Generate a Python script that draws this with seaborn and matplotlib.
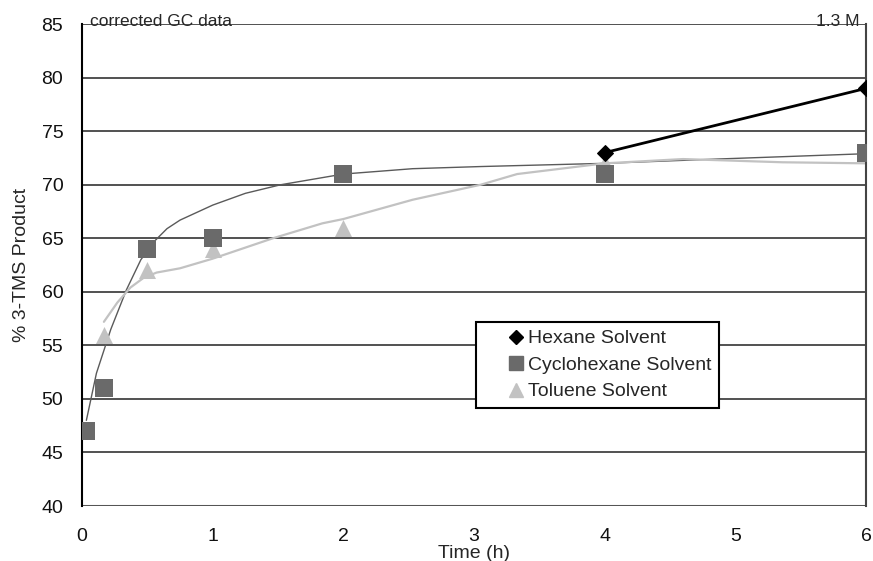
import matplotlib
matplotlib.use("Agg")
import matplotlib.pyplot as plt
import seaborn as sns
from matplotlib.lines import Line2D

# measured data
hex_t = [4, 6]
hex_y = [73, 79]
cyc_t = [0.033, 0.167, 0.5, 1, 2, 4, 6]
cyc_y = [47, 51, 64, 65, 71, 71, 73]
tol_t = [0.167, 0.5, 1, 2, 4, 6]
tol_y = [56, 62, 64, 66, 72, 73]

# smoothed curves
cyc_fit_t = [0.033, 0.11, 0.22, 0.34, 0.45, 0.56, 0.65, 0.75, 1.0, 1.25, 1.52, 2.0, 2.53, 3.05, 4.0, 4.86, 6.0]
cyc_fit_y = [48.0, 52.4, 56.5, 60.2, 63.0, 64.8, 65.9, 66.7, 68.1, 69.2, 70.0, 71.0, 71.5, 71.7, 72.0, 72.4, 72.9]
tol_fit_t = [0.167, 0.27, 0.37, 0.47, 0.57, 0.75, 1.0, 1.46, 1.84, 2.0, 2.53, 3.05, 3.33, 4.0, 4.6, 5.36, 6.0]
tol_fit_y = [57.2, 59.0, 60.4, 61.3, 61.8, 62.2, 63.1, 65.0, 66.4, 66.8, 68.6, 70.0, 71.0, 72.0, 72.4, 72.1, 72.0]

sns.set_style("white")
plt.rcParams['font.family'] = ['Liberation Sans', 'DejaVu Sans']

fig = plt.figure(figsize=(8.73, 5.61), dpi=100)
ax = fig.add_axes([0.094, 0.098, 0.898, 0.859])

dark = "#6a6a6a"
light = "#c2c2c2"

# grid lines
for v in range(45, 86, 5):
    ax.axhline(v, color="#222222", lw=1.1, zorder=0)
ax.axhline(40, color="#555555", lw=2.2, zorder=0)

sns.lineplot(x=cyc_fit_t, y=cyc_fit_y, ax=ax, color="#5a5a5a", lw=1.0, zorder=2)
sns.lineplot(x=tol_fit_t, y=tol_fit_y, ax=ax, color=light, lw=1.6, zorder=2)

sns.scatterplot(x=tol_t, y=tol_y, ax=ax, marker="^", s=150, color=light,
                edgecolor=light, linewidth=0, zorder=3)
sns.scatterplot(x=cyc_t, y=cyc_y, ax=ax, marker="s", s=150, color=dark,
                edgecolor=dark, linewidth=0, zorder=4)
sns.lineplot(x=hex_t, y=hex_y, ax=ax, color="black", lw=2.0, marker="D",
             markersize=8, markeredgecolor="black", zorder=5)

ax.set_xlim(0, 6)
ax.set_ylim(40, 85)
ax.set_xticks(range(0, 7))
ax.set_yticks(range(40, 86, 5))
ax.tick_params(axis="both", labelsize=14, direction="out", length=4.5, width=1,
               color="black", labelcolor="#111111")
ax.tick_params(axis="x", pad=11)
ax.tick_params(axis="y", pad=9)

for s in ["top", "bottom"]:
    ax.spines[s].set_visible(False)
ax.spines["left"].set_color("black")
ax.spines["left"].set_linewidth(1.5)
ax.spines["right"].set_color("#444444")
ax.spines["right"].set_linewidth(1.5)

ax.set_xlabel("Time (h)", fontsize=14, labelpad=0)
ax.set_ylabel("% 3-TMS Product", fontsize=14, labelpad=8)

ax.text(0.06, 84.85, "corrected GC data", fontsize=12.5, va="baseline", ha="left")
ax.text(5.95, 84.85, "1.3 M", fontsize=12.5, va="baseline", ha="right")

handles = [
    Line2D([], [], ls="", marker="D", color="black", markersize=7),
    Line2D([], [], ls="", marker="s", color=dark, markersize=10),
    Line2D([], [], ls="", marker="^", color=light, markersize=10),
]
labels = ["Hexane Solvent", "Cyclohexane Solvent", "Toluene Solvent"]
leg = ax.legend(handles, labels, loc="upper left", bbox_to_anchor=(0.502, 0.382),
                fontsize=14, frameon=True, fancybox=False, borderpad=0.4,
                handletextpad=-1.1, labelspacing=0.46, handlelength=3.4,
                borderaxespad=0)
leg.get_frame().set_edgecolor("black")
leg.get_frame().set_linewidth(1.5)
leg.get_frame().set_alpha(1)

fig.savefig("out.png", dpi=100)
